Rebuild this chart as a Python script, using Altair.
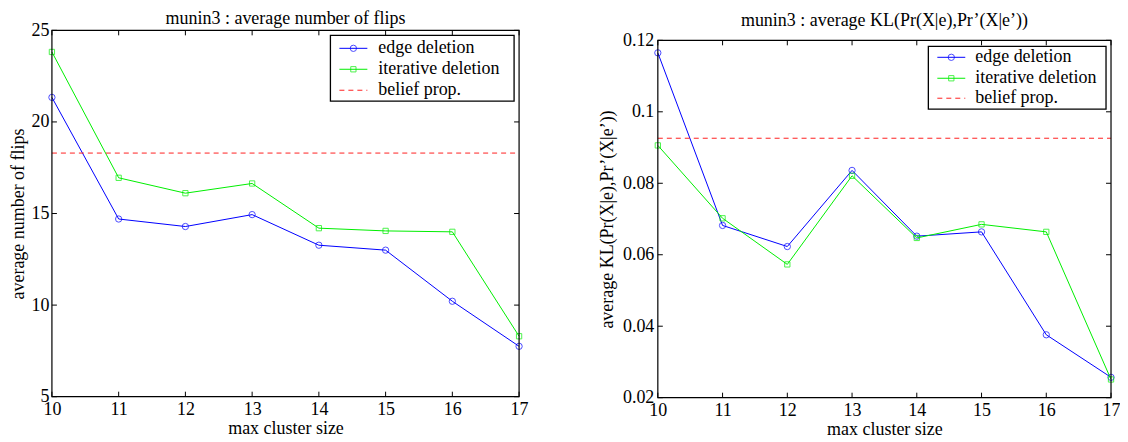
import altair as alt
import pandas as pd

# ---------------- data ----------------
cluster_sizes = [10, 11, 12, 13, 14, 15, 16, 17]
series_names = ["edge deletion", "iterative deletion", "belief prop."]

flips_edge = [21.34, 14.70, 14.29, 14.94, 13.27, 13.00, 10.21, 7.75]
flips_iter = [23.82, 16.95, 16.11, 16.64, 14.20, 14.05, 14.00, 8.30]
flips_bp = 18.3

kl_edge = [0.1165, 0.0682, 0.0623, 0.0836, 0.0652, 0.0664, 0.0376, 0.0257]
kl_iter = [0.0906, 0.0702, 0.0573, 0.0821, 0.0647, 0.0685, 0.0664, 0.0251]
kl_bp = 0.0926

x_ticks = [10, 11, 12, 13, 14, 15, 16, 17]
flips_ticks = [5, 10, 15, 20, 25]
kl_ticks = [0.02, 0.04, 0.06, 0.08, 0.1, 0.12]

FONT = "Liberation Serif"
FS = 18
BLUE = "#0000ff"
GREEN = "#00ee00"
RED = "#ff2020"


def one():
    return pd.DataFrame({"d": [0]})


def panel(v_edge, v_iter, bp, yticks, ydomain, ytitle, title, W, H, ftop, title_y,
          leg, ylabpad, ytitlepad):
    df = pd.DataFrame({
        "x": cluster_sizes + cluster_sizes,
        "y": v_edge + v_iter,
        "s": [series_names[0]] * len(cluster_sizes) + [series_names[1]] * len(cluster_sizes),
    })

    def xe():
        return alt.X("x:Q", scale=alt.Scale(domain=[10, 17], nice=False, zero=False),
                     axis=alt.Axis(values=x_ticks, title="max cluster size", ticks=False,
                                   tickSize=0, domain=False, grid=False, labelFlush=False,
                                   labelPadding=4, titlePadding=1, format="d"))

    def ye():
        return alt.Y("y:Q", scale=alt.Scale(domain=ydomain, nice=False, zero=False,
                                            range=[H, ftop]),
                     axis=alt.Axis(values=yticks, title=ytitle, ticks=False, tickSize=0,
                                   domain=False, grid=False, labelPadding=ylabpad,
                                   titlePadding=ytitlepad, titleY=(H + ftop) / 2,
                                   labelExpr="format(datum.value, '.2~f')"))

    base = alt.Chart(df)
    edge = base.transform_filter(alt.datum.s == series_names[0])
    it = base.transform_filter(alt.datum.s == series_names[1])

    layers = [
        edge.mark_line(color=BLUE, strokeWidth=1).encode(x=xe(), y=ye()),
        edge.mark_point(color=BLUE, shape="circle", size=40, filled=False,
                        strokeWidth=1).encode(x=xe(), y=ye()),
        it.mark_line(color=GREEN, strokeWidth=1).encode(x=xe(), y=ye()),
        it.mark_point(color=GREEN, shape="square", size=28, filled=False,
                      strokeWidth=1).encode(x=xe(), y=ye()),
        alt.Chart(pd.DataFrame({"y": [bp]})).mark_rule(
            color=RED, strokeDash=[5, 4], strokeWidth=1).encode(
            y=ye(), x=alt.value(0), x2=alt.value(W)),
    ]

    # frame
    layers.append(alt.Chart(one()).mark_rect(fill="transparent", stroke="black",
                                             strokeWidth=1.2).encode(
        x=alt.value(0), x2=alt.value(W), y=alt.value(ftop), y2=alt.value(H)))

    # inward ticks on all four sides
    xt = alt.Chart(pd.DataFrame({"x": x_ticks}))
    yt = alt.Chart(pd.DataFrame({"y": yticks}))
    layers += [
        xt.mark_rule(color="black").encode(x=xe(), y=alt.value(ftop), y2=alt.value(ftop + 5)),
        xt.mark_rule(color="black").encode(x=xe(), y=alt.value(H), y2=alt.value(H - 5)),
        yt.mark_rule(color="black").encode(y=ye(), x=alt.value(0), x2=alt.value(5)),
        yt.mark_rule(color="black").encode(y=ye(), x=alt.value(W), x2=alt.value(W - 5)),
    ]

    # legend box
    bx0, bx1, by0, by1, lx0, lx1, tx, rows = leg
    layers.append(alt.Chart(one()).mark_rect(fill="white", stroke="black", strokeWidth=1.3).encode(
        x=alt.value(bx0), x2=alt.value(bx1), y=alt.value(ftop + by0), y2=alt.value(ftop + by1)))
    cols = [BLUE, GREEN, RED]
    for i, name in enumerate(series_names):
        ry = ftop + rows[i]
        if i < 2:
            layers.append(alt.Chart(one()).mark_rule(color=cols[i], strokeWidth=1).encode(
                x=alt.value(lx0), x2=alt.value(lx1), y=alt.value(ry)))
            layers.append(alt.Chart(one()).mark_point(
                color=cols[i], shape="circle" if i == 0 else "square",
                size=40 if i == 0 else 28, filled=False, strokeWidth=1).encode(
                x=alt.value((lx0 + lx1) / 2), y=alt.value(ry)))
        else:
            layers.append(alt.Chart(one()).mark_rule(color=cols[i], strokeWidth=1,
                                                     strokeDash=[5, 4]).encode(
                x=alt.value(lx0), x2=alt.value(lx1), y=alt.value(ry)))
        layers.append(alt.Chart(one()).mark_text(align="left", baseline="middle", font=FONT,
                                                 fontSize=FS, color="black").encode(
            x=alt.value(tx), y=alt.value(ry), text=alt.value(name)))

    # title as text
    layers.append(alt.Chart(one()).mark_text(align="center", baseline="middle", font=FONT,
                                             fontSize=FS, color="black").encode(
        x=alt.value(W / 2), y=alt.value(title_y), text=alt.value(title)))

    return alt.layer(*layers).properties(width=W, height=H)


left = panel(flips_edge, flips_iter, flips_bp, flips_ticks, [5, 25],
             "average number of flips", "munin3 : average number of flips",
             468, 367, 0, -11,
             (279, 463, 5, 71, 288, 316, 327, [18, 39, 60]),
             ylabpad=3, ytitlepad=3)

right = panel(kl_edge, kl_iter, kl_bp, kl_ticks, [0.02, 0.12],
              "average KL(Pr(X|e),Pr\u2019(X|e\u2019))",
              "munin3 : average KL(Pr(X|e),Pr\u2019(X|e\u2019))",
              454, 368, 10, -9,
              (271, 449, 6, 69, 280, 308, 318, [17, 38, 58]),
              ylabpad=4, ytitlepad=6)

chart = alt.hconcat(left, right, spacing=70).properties(
    padding={"left": 2, "top": 2, "right": 0, "bottom": 0}
).configure(font=FONT).configure_axis(
    labelFont=FONT, titleFont=FONT, labelFontSize=FS, titleFontSize=FS,
    labelColor="black", titleColor="black", titleFontWeight="normal"
).configure_view(stroke=None)

chart.save("out.html", embed_options={"renderer": "svg", "actions": False})
